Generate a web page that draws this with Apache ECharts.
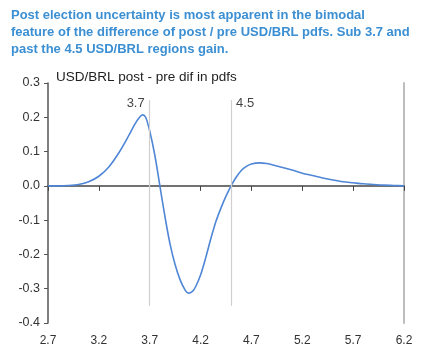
<!DOCTYPE html>
<html lang="en">
<head>
  <meta charset="UTF-8" />
  <title>USD/BRL post - pre dif in pdfs</title>
  <script src="https://cdn.jsdelivr.net/npm/echarts@6/dist/echarts.min.js"></script>
  <style>
    html, body { margin: 0; padding: 0; background: #fff; }
    #chart { width: 435px; height: 353px; }
  </style>
</head>
<body>
  <div id="chart"></div>
  <script>
    // USD/BRL level and the post - pre difference of pdfs
    const usdbrl = [2.7, 2.8, 2.9, 3.0, 3.1, 3.2, 3.3, 3.4, 3.5, 3.55, 3.6, 3.63, 3.66, 3.7, 3.75,
      3.8, 3.85, 3.9, 3.95, 4.0, 4.05, 4.08, 4.12, 4.15, 4.2, 4.25, 4.3, 4.35, 4.4, 4.45,
      4.5, 4.55, 4.6, 4.65, 4.7, 4.78, 4.85, 4.95, 5.1, 5.2, 5.3, 5.4, 5.5, 5.6, 5.7,
      5.8, 5.9, 6.0, 6.1, 6.2];
    const pdfDiff = [0, 0, 0.001, 0.004, 0.012, 0.028, 0.056, 0.098, 0.15, 0.178, 0.2, 0.207, 0.2, 0.16, 0.09,
      0.0, -0.09, -0.17, -0.23, -0.275, -0.305, -0.313, -0.308, -0.295, -0.26, -0.21, -0.155, -0.105, -0.065, -0.03,
      0.0, 0.025, 0.045, 0.057, 0.064, 0.067, 0.065, 0.058, 0.046, 0.037, 0.03, 0.023, 0.017, 0.012, 0.009,
      0.006, 0.004, 0.002, 0.001, 0];
    const xTicks = [2.7, 3.2, 3.7, 4.2, 4.7, 5.2, 5.7, 6.2];
    const markerX = [3.7, 4.5];
    const markerSpan = [-0.35, 0.25];
    const markerLabelY = 0.24;

    const font = '"Liberation Sans", Arial, sans-serif';
    const chart = echarts.init(document.getElementById('chart'));

    const option = {
      animation: false,
      textStyle: { fontFamily: font },
      title: [
        {
          text: 'Post election uncertainty is most apparent in the bimodal\nfeature of the difference of post / pre USD/BRL pdfs. Sub 3.7 and\npast the 4.5 USD/BRL regions gain.',
          left: 6, top: 2,
          textStyle: { fontFamily: font, fontSize: 13, fontWeight: 'bold', color: '#3b8fd2', lineHeight: 17 }
        },
        {
          text: 'USD/BRL post - pre dif in pdfs',
          left: 51, top: 65,
          textStyle: { fontFamily: font, fontSize: 13.5, fontWeight: 'normal', color: '#222' }
        }
      ],
      grid: { left: 48, right: 31, top: 83, bottom: 30 },
      xAxis: [
        {
          type: 'value', min: 2.7, max: 6.2,
          axisLine: { onZero: true, lineStyle: { color: '#444', width: 1.5 } },
          axisTick: { show: true, customValues: xTicks, length: 5, lineStyle: { color: '#444' } },
          axisLabel: { show: false },
          splitLine: { show: false }
        },
        {
          type: 'value', min: 2.7, max: 6.2, position: 'bottom',
          axisLine: { show: false, onZero: false },
          axisTick: { show: false },
          axisLabel: {
            customValues: xTicks, margin: 12, fontSize: 12, color: '#333',
            formatter: v => v.toFixed(1)
          },
          splitLine: { show: false }
        }
      ],
      yAxis: [
        {
          type: 'value', min: -0.4, max: 0.3, interval: 0.1,
          axisLine: { show: true, lineStyle: { color: '#555', width: 1.5 } },
          axisTick: { show: true, length: 4, lineStyle: { color: '#555' } },
          axisLabel: { fontSize: 12.5, color: '#333', margin: 8, formatter: v => v.toFixed(1) },
          splitLine: { show: false }
        },
        {
          type: 'value', min: -0.4, max: 0.3, position: 'right',
          axisLine: { show: true, lineStyle: { color: '#bdbdbd', width: 2 } },
          axisTick: { show: false },
          axisLabel: { show: false },
          splitLine: { show: false }
        }
      ],
      series: [
        {
          type: 'line',
          data: usdbrl.map((x, i) => [x, pdfDiff[i]]),
          smooth: 0.3,
          showSymbol: false,
          lineStyle: { color: '#4f86d6', width: 1.6 },
          markLine: {
            silent: true,
            symbol: 'none',
            label: { show: false },
            lineStyle: { color: '#cfcfcf', width: 1.2, type: 'solid' },
            data: markerX.map(x => [{ coord: [x, markerSpan[0]] }, { coord: [x, markerSpan[1]] }])
          }
        },
        {
          type: 'scatter',
          symbolSize: 0,
          silent: true,
          data: markerX.map((x, i) => ({
            value: [x, markerLabelY],
            label: { position: i === 0 ? 'left' : 'right' }
          })),
          label: {
            show: true, distance: 5, fontSize: 13, color: '#111',
            formatter: p => p.value[0].toFixed(1)
          }
        }
      ]
    };
    chart.setOption(option);
  </script>
</body>
</html>
